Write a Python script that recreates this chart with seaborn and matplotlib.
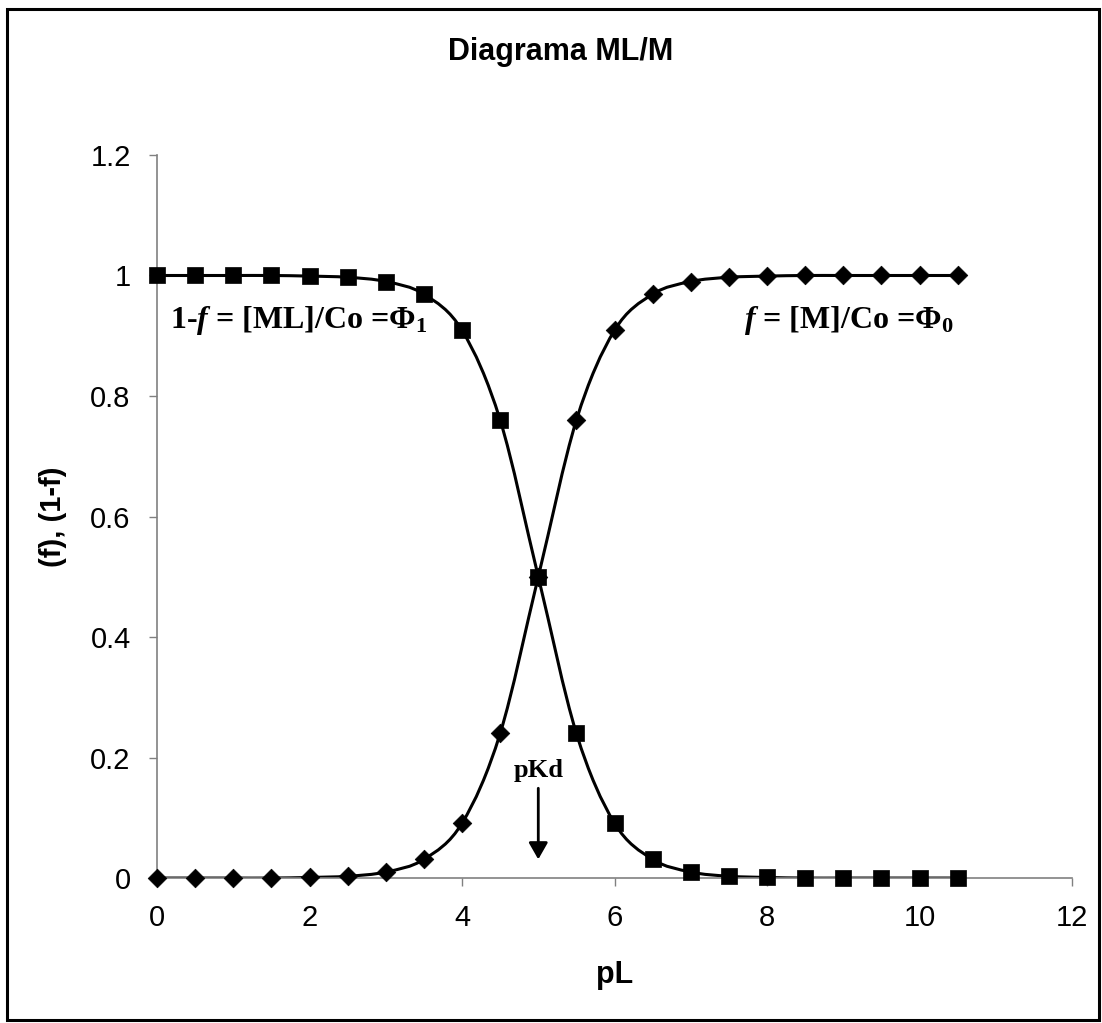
import numpy as np
import pandas as pd
import matplotlib
matplotlib.use("Agg")
import matplotlib.pyplot as plt
import seaborn as sns
from matplotlib.path import Path
from matplotlib.patches import PathPatch, Rectangle

# ---- data ----
pL = [0.0, 0.5, 1.0, 1.5, 2.0, 2.5, 3.0, 3.5, 4.0, 4.5, 5.0,
      5.5, 6.0, 6.5, 7.0, 7.5, 8.0, 8.5, 9.0, 9.5, 10.0, 10.5]
f_vals = [0.0, 0.0, 0.0, 0.0, 0.001, 0.003, 0.01, 0.031, 0.091, 0.24, 0.5,
          0.76, 0.909, 0.969, 0.99, 0.997, 0.999, 1.0, 1.0, 1.0, 1.0, 1.0]
one_minus_f = [1.0, 1.0, 1.0, 1.0, 0.999, 0.997, 0.99, 0.969, 0.909, 0.76, 0.5,
               0.24, 0.091, 0.031, 0.01, 0.003, 0.001, 0.0, 0.0, 0.0, 0.0, 0.0]
x_ticks = [0, 2, 4, 6, 8, 10, 12]
y_ticks = [0, 0.2, 0.4, 0.6, 0.8, 1.0, 1.2]
y_tick_labels = ["0", "0.2", "0.4", "0.6", "0.8", "1", "1.2"]
title = "Diagrama ML/M"
x_label = "pL"
y_label = "(f), (1-f)"

sns.set_theme(style="white")
plt.rcParams['font.family'] = ['Liberation Sans', 'DejaVu Sans']
plt.rcParams['text.color'] = 'black'
plt.rcParams['axes.labelcolor'] = 'black'
plt.rcParams['mathtext.fontset'] = 'custom'
plt.rcParams['mathtext.rm'] = 'Liberation Serif:bold'
plt.rcParams['mathtext.it'] = 'Liberation Serif:italic:bold'
plt.rcParams['mathtext.bf'] = 'Liberation Serif:bold'

fig = plt.figure(figsize=(11.02, 10.23), dpi=100)
ax = fig.add_axes([0.1425, 0.1417, 0.9728 - 0.1425, 0.8485 - 0.1417])

# outer border
fig.patches.append(Rectangle((0.0065, 0.003), 0.9905, 0.9885, transform=fig.transFigure,
                             fill=False, edgecolor='black', linewidth=2.2))

df = pd.DataFrame({"pL": pL + pL,
                   "value": f_vals + one_minus_f,
                   "series": ["f"] * len(pL) + ["1-f"] * len(pL)})


def smooth_path(xs, ys, t=1 / 6):
    xs = np.asarray(xs, float)
    ys = np.asarray(ys, float)
    verts = [(xs[0], ys[0])]
    codes = [Path.MOVETO]
    n = len(xs)
    for i in range(n - 1):
        p0 = np.array([xs[max(i - 1, 0)], ys[max(i - 1, 0)]])
        p1 = np.array([xs[i], ys[i]])
        p2 = np.array([xs[i + 1], ys[i + 1]])
        p3 = np.array([xs[min(i + 2, n - 1)], ys[min(i + 2, n - 1)]])
        c1 = p1 + (p2 - p0) * t
        c2 = p2 - (p3 - p1) * t
        verts += [tuple(c1), tuple(c2), tuple(p2)]
        codes += [Path.CURVE4] * 3
    return Path(verts, codes)


for ser in ["f", "1-f"]:
    sub = df[df.series == ser]
    ax.add_patch(PathPatch(smooth_path(sub.pL, sub.value), fill=False,
                           edgecolor='black', linewidth=2.2, zorder=2))

sns.scatterplot(data=df[df.series == "f"], x="pL", y="value", marker='D', s=90,
                color='black', edgecolor='black', linewidth=0.5, ax=ax, zorder=3,
                legend=False, clip_on=False)
sns.scatterplot(data=df[df.series == "1-f"], x="pL", y="value", marker='s', s=125,
                color='black', edgecolor='black', linewidth=0.5, ax=ax, zorder=3,
                legend=False, clip_on=False)

ax.set_xlim(0, 12)
ax.set_ylim(0, 1.2)
ax.set_xticks(x_ticks)
ax.set_yticks(y_ticks)
ax.set_yticklabels(y_tick_labels)
ax.tick_params(axis='both', which='both', direction='out', length=6, width=1,
               color='#808080', labelsize=21, labelcolor='black',
               bottom=True, left=True)
ax.tick_params(axis='y', pad=13)
ax.tick_params(axis='x', pad=13)
for side in ['top', 'right']:
    ax.spines[side].set_visible(False)
for side in ['left', 'bottom']:
    ax.spines[side].set_color('#808080')
    ax.spines[side].set_linewidth(1.2)
ax.set_facecolor('white')
ax.grid(False)

ax.set_xlabel(x_label, fontsize=22, fontweight='bold')
ax.set_ylabel(y_label, fontsize=21, fontweight='bold')
ax.xaxis.set_label_coords(0.5, -0.134)
ax.xaxis.label.set_va('center')
ax.yaxis.set_label_coords(-0.1137, 0.5)
ax.yaxis.label.set_va('center')
fig.text(0.509, 0.949, title, ha='center', va='center', fontsize=22, fontweight='bold')

ax.text(0.17, 0.926, r"$\mathit{1}$-$\mathit{f}$ = [ML]/Co =$\Phi_1$", fontsize=23,
        fontfamily='Liberation Serif', fontweight='bold', ha='left', va='center')
ax.text(7.70, 0.926, r"$\mathit{f}$ = [M]/Co =$\Phi_0$", fontsize=23,
        fontfamily='Liberation Serif', fontweight='bold', ha='left', va='center')

ax.annotate("", xy=(5.0, 0.031), xytext=(5.0, 0.149),
            arrowprops=dict(arrowstyle='-|>,head_length=0.84,head_width=0.48',
                            mutation_scale=12, color='black', lw=2.0,
                            shrinkA=0, shrinkB=0))
ax.text(5.0, 0.178, "pKd", fontsize=19, fontfamily='Liberation Serif', fontweight='bold',
        ha='center', va='center')

fig.savefig("out.png", dpi=100, facecolor='white')
